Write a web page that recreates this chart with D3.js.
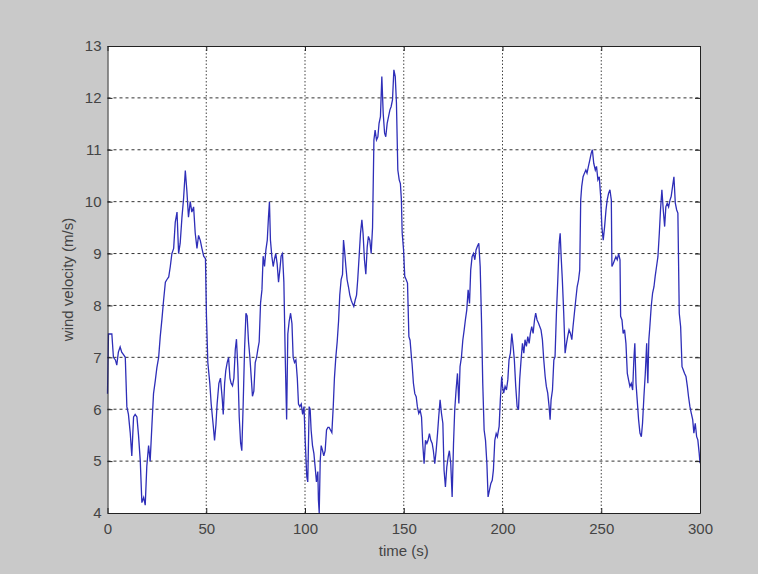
<html>
  <head>
    <script src="https://d3js.org/d3.v7.min.js"></script>
    <style>
      body { margin: 0; background: #c9c9c9; }
      text { font-family: "Liberation Sans", Arial, sans-serif; }
    </style>
  </head>
  <body>
    <div id="chart"></div>
    <script>
      // wind record: time (s) and velocity (m/s)
      const time = [
        0, 0.5, 2.2, 3, 4, 4.7, 5.5, 6.4, 7.2, 8.1, 9, 9.8, 10.6, 11.5, 12.3, 13.2, 14, 14.9, 15.7, 16.6,
        17.4, 18.3, 19.1, 19.9, 20.8, 21.6, 22.5, 23.3, 24.2, 25, 25.9, 26.7, 27.6, 28.4, 29.3, 30.1, 31, 31.8, 32.6, 33.5,
        34.3, 35.2, 36, 36.8, 37.7, 38.5, 39.4, 40.2, 41, 41.9, 42.7, 43.6, 44.4, 45.3, 46.1, 47, 47.8, 48.7,
        49.6, 50.1, 50.8, 51.8, 52.5, 53.5, 54.2, 54.9, 55.5, 56.4, 57.2, 58.1, 58.6, 59.3, 59.9, 60.6, 61.3, 62, 62.6, 63.3,
        64, 64.7, 65.3, 66, 66.7, 67.4, 68, 68.7, 69.4, 70.1, 70.7, 71.4, 72.1, 72.8, 73.4, 74.1, 74.8, 75.5, 76.1, 76.8,
        77.5, 78.2, 78.8, 79.5, 80.2, 80.9, 81.5, 82, 82.5, 83.2, 83.9, 84.6, 85.2, 85.9, 86.6, 87.3, 87.9, 88.6, 89.3, 90,
        90.7, 91.3, 92, 92.7, 93.4, 94, 94.7, 95.4, 96.1, 96.7, 97.4, 98.1, 98.8, 99.5, 100.1, 100.9, 101.4, 102.1, 102.6, 103.1,
        103.8, 104.5, 105.1, 105.8, 106.5, 106.8, 107.2, 107.7, 108.2, 108.9, 109.5, 110.2, 110.9, 111.6, 112.2, 112.9, 113.6, 114.3, 114.9, 115.6,
        116.3, 117, 117.6, 118.3, 119, 119.5, 120, 120.7, 121.3, 122, 122.7, 123.4, 124, 124.7, 125.4, 126.1, 126.7, 127.4, 128.1, 128.8,
        129.4, 130.1, 130.8, 131.5, 132.1, 132.8, 133.5, 134.2, 134.9, 135.5, 136.2, 136.9, 137.5, 138.2, 138.9, 139.6, 140.3, 140.9, 141.6, 142.3,
        143, 143.6, 144.3, 145, 145.7, 146.3, 147, 147.7, 148.3, 148.8, 149.2, 149.9, 150.5, 151.2, 151.9, 152.6, 153.2, 153.9, 154.2, 154.9,
        155.6, 156.3, 156.9, 157.6, 158.3, 159, 159.6, 160.3, 161, 161.7, 162.3, 163, 163.7, 164.4, 165, 165.7, 166.4, 167.1, 167.7, 168.4,
        169.1, 169.8, 170.4, 171.1, 171.8, 172.5, 173.1, 173.8, 174.5, 175.2, 175.8, 176.5, 177.2, 177.9, 178.5, 179.2, 179.9, 180.6, 181.2, 181.9,
        182.6, 183.3, 183.9, 184.6, 185.3, 186, 186.6, 187.3, 188, 188.7, 189.4, 190, 190.7, 191.4, 192.1, 192.7, 193.4, 194.1, 194.8, 195.4,
        196.1, 196.8, 197.4, 198.3, 198.9, 199.6, 200, 200.6, 201.3, 202, 202.7, 203.3, 204, 204.7, 205.4, 206, 206.7, 207.4, 208.1, 208.7,
        209.4, 210.1, 210.8, 211.4, 212.1, 212.8, 213.5, 214.1, 214.8, 215.5, 216.2, 216.8, 217.5, 218.2, 218.9, 219.5, 220.2, 220.9, 221.6, 222.2,
        222.9, 223.6, 224.1, 224.6, 225.3, 226, 226.6, 227.3, 228, 228.7, 229.2, 229.7, 230.3, 231, 231.7, 232.4, 233, 233.7, 234.4, 235.1,
        235.7, 236.4, 237.1, 237.8, 238.5, 239.1, 239.6, 240.1, 240.8, 241.5, 242.2, 242.8, 243.5, 244.2, 244.9, 245.5, 246.2, 247, 247.6, 248.3,
        249, 249.7, 250.3, 251, 251.7, 252.4, 253, 253.7, 254.4, 255.1, 255.4, 256.1, 256.8, 257.4, 258.1, 258.8, 259.5, 259.8, 260.5, 261.1,
        261.8, 262.5, 263.2, 263.8, 264.5, 265.2, 265.9, 266.5, 267, 267.6, 268.2, 268.9, 269.6, 270.3, 270.9, 271.6, 272.3, 273, 273.3, 273.6,
        274.1, 274.6, 275.3, 276, 276.7, 277.3, 278, 278.7, 279.4, 280, 280.7, 281.4, 282.1, 282.7, 283.4, 284.1, 284.8, 285.4, 286.1, 286.8,
        287.5, 288.2, 288.8, 289.5, 290.2, 290.9, 291.5, 292.2, 292.9, 293.6, 294.2, 294.9, 295.6, 296.3, 296.9, 297.6, 298.3, 298.9, 299.6, 300
      ];
      const velocity = [
        6.3, 7.45, 7.45, 7.0, 6.95, 6.85, 7.1, 7.2, 7.1, 7.05, 7.0, 6.05, 5.9, 5.55, 5.1, 5.85, 5.9, 5.85, 5.5, 5.0,
        4.2, 4.3, 4.15, 4.9, 5.3, 5.0, 5.7, 6.3, 6.55, 6.8, 7.0, 7.4, 7.75, 8.1, 8.45, 8.5, 8.55, 8.75, 9.0, 9.1,
        9.6, 9.8, 9.0, 9.2, 9.7, 10.05, 10.6, 10.2, 9.7, 10.0, 9.8, 9.9, 9.4, 9.1, 9.35, 9.25, 9.1, 8.95,
        8.9, 7.8, 6.9, 6.5, 6.1, 5.7, 5.4, 5.7, 6.1, 6.5, 6.6, 6.2, 5.9, 6.5, 6.75, 6.9, 7.0, 6.6, 6.5, 6.45,
        6.6, 7.15, 7.35, 6.8, 5.85, 5.35, 5.2, 6.1, 7.15, 7.85, 7.8, 7.3, 7.0, 6.6, 6.25, 6.35, 6.9, 7.0, 7.15, 7.3,
        8.05, 8.3, 8.95, 8.75, 9.07, 9.26, 9.7, 10.0, 9.26, 8.95, 8.75, 8.9, 9.0, 8.8, 8.45, 8.7, 8.95, 9.0, 8.45, 7.0,
        5.8, 7.45, 7.7, 7.85, 7.65, 7.0, 6.9, 6.95, 6.6, 6.1, 6.05, 6.1, 5.9, 6.05, 5.4, 4.7, 4.6, 6.05, 6.0, 5.6,
        5.3, 5.15, 4.9, 4.6, 4.8, 4.25, 4.0, 5.0, 5.3, 5.2, 5.1, 5.2, 5.6, 5.65, 5.65, 5.6, 5.55, 6.05, 6.6, 7.0,
        7.3, 7.7, 8.2, 8.5, 8.6, 9.26, 9.07, 8.75, 8.5, 8.36, 8.2, 8.1, 8.04, 7.98, 8.1, 8.2, 8.5, 8.94, 9.39, 9.65,
        9.39, 8.88, 8.6, 9.13, 9.33, 9.26, 9.0, 9.5, 11.19, 11.38, 11.19, 11.25, 11.51, 11.64, 12.41, 11.7, 11.32, 11.25, 11.51, 11.64,
        11.77, 11.83, 11.96, 12.54, 12.41, 11.9, 10.61, 10.42, 10.35, 10.04, 9.4, 9.07, 8.56, 8.5, 8.43, 7.4, 7.33, 7.0, 6.88, 6.5,
        6.3, 6.24, 6.05, 5.92, 5.98, 5.85, 5.34, 4.95, 5.4, 5.34, 5.4, 5.53, 5.4, 5.34, 5.2, 4.95, 5.2, 5.53, 5.85, 6.18,
        5.92, 5.73, 4.83, 4.5, 4.89, 5.08, 5.2, 4.95, 4.31, 5.34, 5.98, 6.37, 6.69, 6.11, 6.82, 7.0, 7.33, 7.53, 7.72, 7.91,
        8.3, 8.04, 8.68, 8.94, 9.0, 8.88, 9.07, 9.14, 9.2, 8.75, 7.66, 6.5, 5.6, 5.4, 4.95, 4.31, 4.44, 4.57, 4.63, 4.83,
        5.4, 5.53, 5.47, 5.67, 6.18, 6.63, 6.44, 6.31, 6.44, 6.37, 6.57, 6.95, 7.08, 7.46, 7.21, 6.95, 6.44, 6.05, 5.99, 6.57,
        6.95, 7.27, 7.08, 7.34, 7.21, 7.4, 7.27, 7.46, 7.59, 7.46, 7.72, 7.85, 7.72, 7.66, 7.59, 7.53, 7.34, 6.95, 6.63, 6.44,
        6.31, 6.05, 5.8, 6.18, 6.37, 6.95, 7.01, 7.85, 8.49, 9.2, 9.39, 8.94, 8.49, 7.85, 7.08, 7.27, 7.4, 7.53, 7.46, 7.34,
        7.59, 7.85, 8.11, 8.36, 8.49, 8.68, 10.03, 10.29, 10.48, 10.55, 10.61, 10.55, 10.68, 10.8, 10.93, 11.0, 10.74, 10.61, 10.68, 10.42,
        10.48, 10.1, 9.52, 9.26, 9.52, 9.84, 10.03, 10.16, 10.23, 10.03, 8.75, 8.81, 8.88, 8.94, 8.88, 9.0, 8.88, 7.79, 7.72, 7.46,
        7.53, 7.27, 6.69, 6.57, 6.44, 6.5, 6.37, 6.95, 7.27, 6.5, 6.18, 5.8, 5.54, 5.47, 5.73, 6.24, 6.69, 7.27, 6.82, 6.5,
        7.34, 7.59, 7.98, 8.24, 8.36, 8.56, 8.75, 8.94, 9.39, 9.84, 10.23, 9.84, 9.52, 9.9, 9.97, 9.9, 10.03, 10.1, 10.29, 10.48,
        9.97, 9.84, 9.78, 7.85, 7.59, 6.82, 6.76, 6.69, 6.63, 6.44, 6.24, 6.05, 5.92, 5.8, 5.54, 5.73, 5.47, 5.41, 5.15, 4.96
      ];
      const xTicks = [0, 50, 100, 150, 200, 250, 300];
      const yTicks = [4, 5, 6, 7, 8, 9, 10, 11, 12, 13];

      const data = time.map((t, i) => ({t: t, v: velocity[i]}));

      const width = 758;
      const height = 574;
      const margin = ({top: 46, right: 58, bottom: 61, left: 107.5});

      const svg = d3.create('svg')
        .attr('width', width)
        .attr('height', height)
        .style('display', 'block');

      svg.append('rect')
        .attr('width', width)
        .attr('height', height)
        .attr('fill', '#c9c9c9');

      const xScale = d3.scaleLinear()
        .domain([0, 300])
        .range([margin.left, width - margin.right]);

      const yScale = d3.scaleLinear()
        .domain([4, 13])
        .range([height - margin.bottom, margin.top]);

      // white axes area
      svg.append('rect')
        .attr('x', xScale(0))
        .attr('y', yScale(13))
        .attr('width', xScale(300) - xScale(0))
        .attr('height', yScale(4) - yScale(13))
        .attr('fill', 'white');

      // dotted grid
      svg.append('g')
        .selectAll('line')
        .data(xTicks.slice(1, -1))
        .join('line')
          .attr('x1', d => xScale(d)).attr('x2', d => xScale(d))
          .attr('y1', yScale(13)).attr('y2', yScale(4))
          .attr('stroke', '#444')
          .attr('stroke-width', 1)
          .attr('stroke-dasharray', '1.5,2');

      svg.append('g')
        .selectAll('line')
        .data(yTicks.slice(1, -1))
        .join('line')
          .attr('x1', xScale(0)).attr('x2', xScale(300))
          .attr('y1', d => yScale(d)).attr('y2', d => yScale(d))
          .attr('stroke', '#333')
          .attr('stroke-width', 1)
          .attr('stroke-dasharray', '3,3');

      const line = d3.line()
        .x(d => xScale(d.t))
        .y(d => yScale(d.v));

      svg.append('path')
        .datum(data)
        .attr('fill', 'none')
        .attr('stroke', '#2e2eb8')
        .attr('stroke-width', 1.3)
        .attr('d', line);

      // axes with inward ticks, MATLAB style
      const fmt = d3.format('d');
      svg.append('g')
        .attr('transform', `translate(0, ${yScale(4)})`)
        .call(d3.axisBottom(xScale).tickValues(xTicks).tickFormat(fmt).tickSizeInner(-5).tickSizeOuter(0).tickPadding(10));
      svg.append('g')
        .attr('transform', `translate(${xScale(0)}, 0)`)
        .call(d3.axisLeft(yScale).tickValues(yTicks).tickFormat(fmt).tickSizeInner(-5).tickSizeOuter(0).tickPadding(6));
      svg.append('g')
        .attr('transform', `translate(0, ${yScale(13)})`)
        .call(d3.axisTop(xScale).tickValues(xTicks).tickFormat('').tickSizeInner(-5).tickSizeOuter(0));
      svg.append('g')
        .attr('transform', `translate(${xScale(300)}, 0)`)
        .call(d3.axisRight(yScale).tickValues(yTicks).tickFormat('').tickSizeInner(-5).tickSizeOuter(0));

      svg.selectAll('.domain').attr('stroke', '#222');
      svg.selectAll('.tick line').attr('stroke', '#222');
      svg.selectAll('.tick text')
        .attr('font-size', '15px')
        .attr('fill', '#444');

      svg.append('text')
        .attr('x', (xScale(0) + xScale(300)) / 2)
        .attr('y', 556)
        .attr('text-anchor', 'middle')
        .attr('font-size', '15px')
        .attr('fill', '#444')
        .text('time (s)');

      svg.append('text')
        .attr('transform', `translate(73, ${(yScale(4) + yScale(13)) / 2}) rotate(-90)`)
        .attr('text-anchor', 'middle')
        .attr('font-size', '15px')
        .attr('fill', '#444')
        .text('wind velocity (m/s)');

      document.getElementById('chart').appendChild(svg.node());
    </script>
  </body>
</html>
